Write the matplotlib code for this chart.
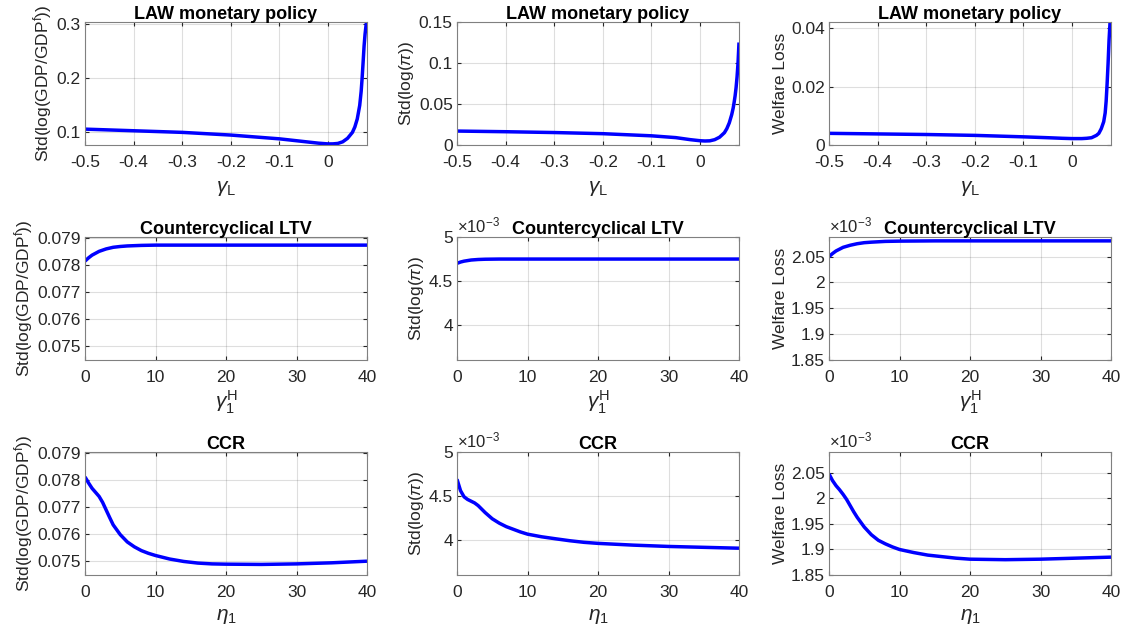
import matplotlib
matplotlib.use("Agg")
import matplotlib.pyplot as plt
import numpy as np

plt.rcParams['font.family'] = ['Liberation Sans', 'DejaVu Sans']
plt.rcParams['mathtext.fontset'] = 'custom'
plt.rcParams['mathtext.rm'] = 'Liberation Sans'
plt.rcParams['mathtext.it'] = 'Liberation Sans:italic'

# row 1: LAW monetary policy, x = gamma_L
gL = [-0.5, -0.4, -0.3, -0.2, -0.1, -0.05, -0.02, 0.0, 0.01, 0.02, 0.03, 0.04,
      0.05, 0.055, 0.06, 0.065, 0.068, 0.07, 0.072, 0.074, 0.076, 0.078, 0.08]
law_gdp = [0.106, 0.103, 0.100, 0.095, 0.088, 0.083, 0.080, 0.0786, 0.0787, 0.0795,
           0.0825, 0.089, 0.100, 0.110, 0.125, 0.150, 0.176, 0.201, 0.230, 0.260, 0.282, 0.298, 0.310]
law_pi = [0.0170, 0.0162, 0.0152, 0.0138, 0.0112, 0.0090, 0.0065, 0.0052, 0.0049, 0.0051,
          0.0065, 0.0095, 0.0150, 0.0200, 0.0270, 0.0370, 0.0450, 0.0520, 0.0600, 0.0700,
          0.0830, 0.1000, 0.1250]
law_wl = [0.0040, 0.0038, 0.0036, 0.0033, 0.0028, 0.0025, 0.0023, 0.0022, 0.0022, 0.0022,
          0.0023, 0.0025, 0.0033, 0.0040, 0.0056, 0.0080, 0.0110, 0.0150, 0.0210, 0.0280,
          0.0360, 0.0420, 0.0450]

# row 2: Countercyclical LTV, x = gamma_1^H
g1H = [0, 0.5, 1, 2, 3, 4, 5, 6, 8, 10, 15, 20, 30, 40]
ltv_gdp = [0.07815, 0.07827, 0.07837, 0.07851, 0.07860, 0.07866, 0.07869, 0.07871,
           0.07873, 0.07874, 0.07874, 0.07874, 0.07874, 0.07874]
ltv_pi = [4.70, 4.715, 4.725, 4.738, 4.744, 4.747, 4.748, 4.749, 4.749, 4.749,
          4.749, 4.749, 4.749, 4.749]  # x 1e-3
ltv_wl = [2.050, 2.056, 2.061, 2.068, 2.072, 2.075, 2.077, 2.078, 2.0795, 2.080,
          2.0805, 2.0805, 2.0805, 2.0805]  # x 1e-3

# row 3: CCR, x = eta_1
eta1 = [0, 0.5, 1, 1.5, 2, 2.5, 3, 3.5, 4, 5, 6, 7, 8, 9, 10, 12, 14, 16, 18, 20,
        25, 30, 35, 40]
ccr_gdp = [0.07812, 0.07790, 0.07770, 0.07755, 0.07740, 0.07718, 0.07690, 0.07662,
           0.07635, 0.07599, 0.07572, 0.07554, 0.07540, 0.07530, 0.07522, 0.07509,
           0.07500, 0.07494, 0.07491, 0.07490, 0.07489, 0.07491, 0.07495, 0.07501]
ccr_pi = [4.69, 4.56, 4.49, 4.46, 4.44, 4.42, 4.39, 4.35, 4.31, 4.24, 4.19, 4.15,
          4.12, 4.09, 4.065, 4.035, 4.012, 3.99, 3.972, 3.96, 3.94, 3.925, 3.915, 3.905]  # x 1e-3
ccr_wl = [2.048, 2.035, 2.025, 2.017, 2.008, 1.998, 1.986, 1.974, 1.963, 1.944,
          1.929, 1.918, 1.911, 1.905, 1.900, 1.894, 1.889, 1.886, 1.883, 1.881,
          1.880, 1.881, 1.883, 1.885]  # x 1e-3

titles = ['LAW monetary policy', 'Countercyclical LTV', 'CCR']
xlabels = [r'$\gamma_{\mathrm{L}}$', r'$\gamma_{\mathrm{1}}^{\mathrm{H}}$', r'$\eta_{\mathrm{1}}$']
ylabels = [r'Std(log(GDP/GDP$^{\mathrm{f}}$))', r'Std(log($\pi$))', 'Welfare Loss']

xs = [gL, g1H, eta1]
ys = [[law_gdp, law_pi, law_wl], [ltv_gdp, ltv_pi, ltv_wl], [ccr_gdp, ccr_pi, ccr_wl]]
scaled = [[False, False, False], [False, True, True], [False, True, True]]

xlims = [(-0.5, 0.08), (0, 40), (0, 40)]
xticks = [[-0.5, -0.4, -0.3, -0.2, -0.1, 0], [0, 10, 20, 30, 40], [0, 10, 20, 30, 40]]
xticklabels = [['-0.5', '-0.4', '-0.3', '-0.2', '-0.1', '0'], None, None]

ylims = [[(0.0766, 0.3045), (0, 0.15), (0, 0.0422)],
         [(0.0745, 0.07904), (3.6, 5.0), (1.85, 2.088)],
         [(0.0745, 0.07904), (3.6, 5.0), (1.85, 2.091)]]
yticks = [[[0.1, 0.2, 0.3], [0, 0.05, 0.1, 0.15], [0, 0.02, 0.04]],
          [[0.075, 0.076, 0.077, 0.078, 0.079], [4, 4.5, 5], [1.85, 1.9, 1.95, 2, 2.05]],
          [[0.075, 0.076, 0.077, 0.078, 0.079], [4, 4.5, 5], [1.85, 1.9, 1.95, 2, 2.05]]]
yticklabels = [[['0.1', '0.2', '0.3'], ['0', '0.05', '0.1', '0.15'], ['0', '0.02', '0.04']],
               [['0.075', '0.076', '0.077', '0.078', '0.079'], ['4', '4.5', '5'],
                ['1.85', '1.9', '1.95', '2', '2.05']],
               [['0.075', '0.076', '0.077', '0.078', '0.079'], ['4', '4.5', '5'],
                ['1.85', '1.9', '1.95', '2', '2.05']]]

fig = plt.figure(figsize=(11.25, 6.37), dpi=100)
W, H = 1125, 637
lefts = [85, 457, 829]
bottoms = [145, 360, 575]
aw, ah = 282, 123
dark = (0.15, 0.15, 0.15)
xlabpad = [7, 3, 5]

for r in range(3):
    for c in range(3):
        ax = fig.add_axes([lefts[c] / W, 1 - bottoms[r] / H, aw / W, ah / H])
        ax.plot(xs[r], ys[r][c], color='#0000ff', lw=2.5, solid_capstyle='butt')
        ax.set_xlim(*xlims[r])
        ax.set_ylim(*ylims[r][c])
        ax.set_xticks(xticks[r])
        if xticklabels[r] is not None:
            ax.set_xticklabels(xticklabels[r])
        ax.set_yticks(yticks[r][c])
        ax.set_yticklabels(yticklabels[r][c])
        ax.grid(True, color=dark, alpha=0.15, lw=0.8)
        ax.tick_params(direction='in', length=3, width=0.8, top=True, right=True,
                       labelsize=12.5, colors=dark, labelcolor=dark)
        ax.tick_params(axis='x', pad=7)
        ax.tick_params(axis='y', pad=3)
        for s in ax.spines.values():
            s.set_color((0.5, 0.5, 0.5))
            s.set_linewidth(0.8)
        ax.set_title(titles[r], fontsize=13, fontweight='bold', pad=2)
        ax.set_xlabel(xlabels[r], fontsize=15, color=dark, labelpad=xlabpad[r])
        ax.set_ylabel(ylabels[c], fontsize=12.5, color=dark, labelpad=2)
        if scaled[r][c]:
            ax.text(0.0, 1.01, r'$\times\mathrm{10}^{\mathrm{-3}}$', transform=ax.transAxes,
                    fontsize=12, color=dark, ha='left', va='bottom')

fig.savefig('out.png', dpi=100)
